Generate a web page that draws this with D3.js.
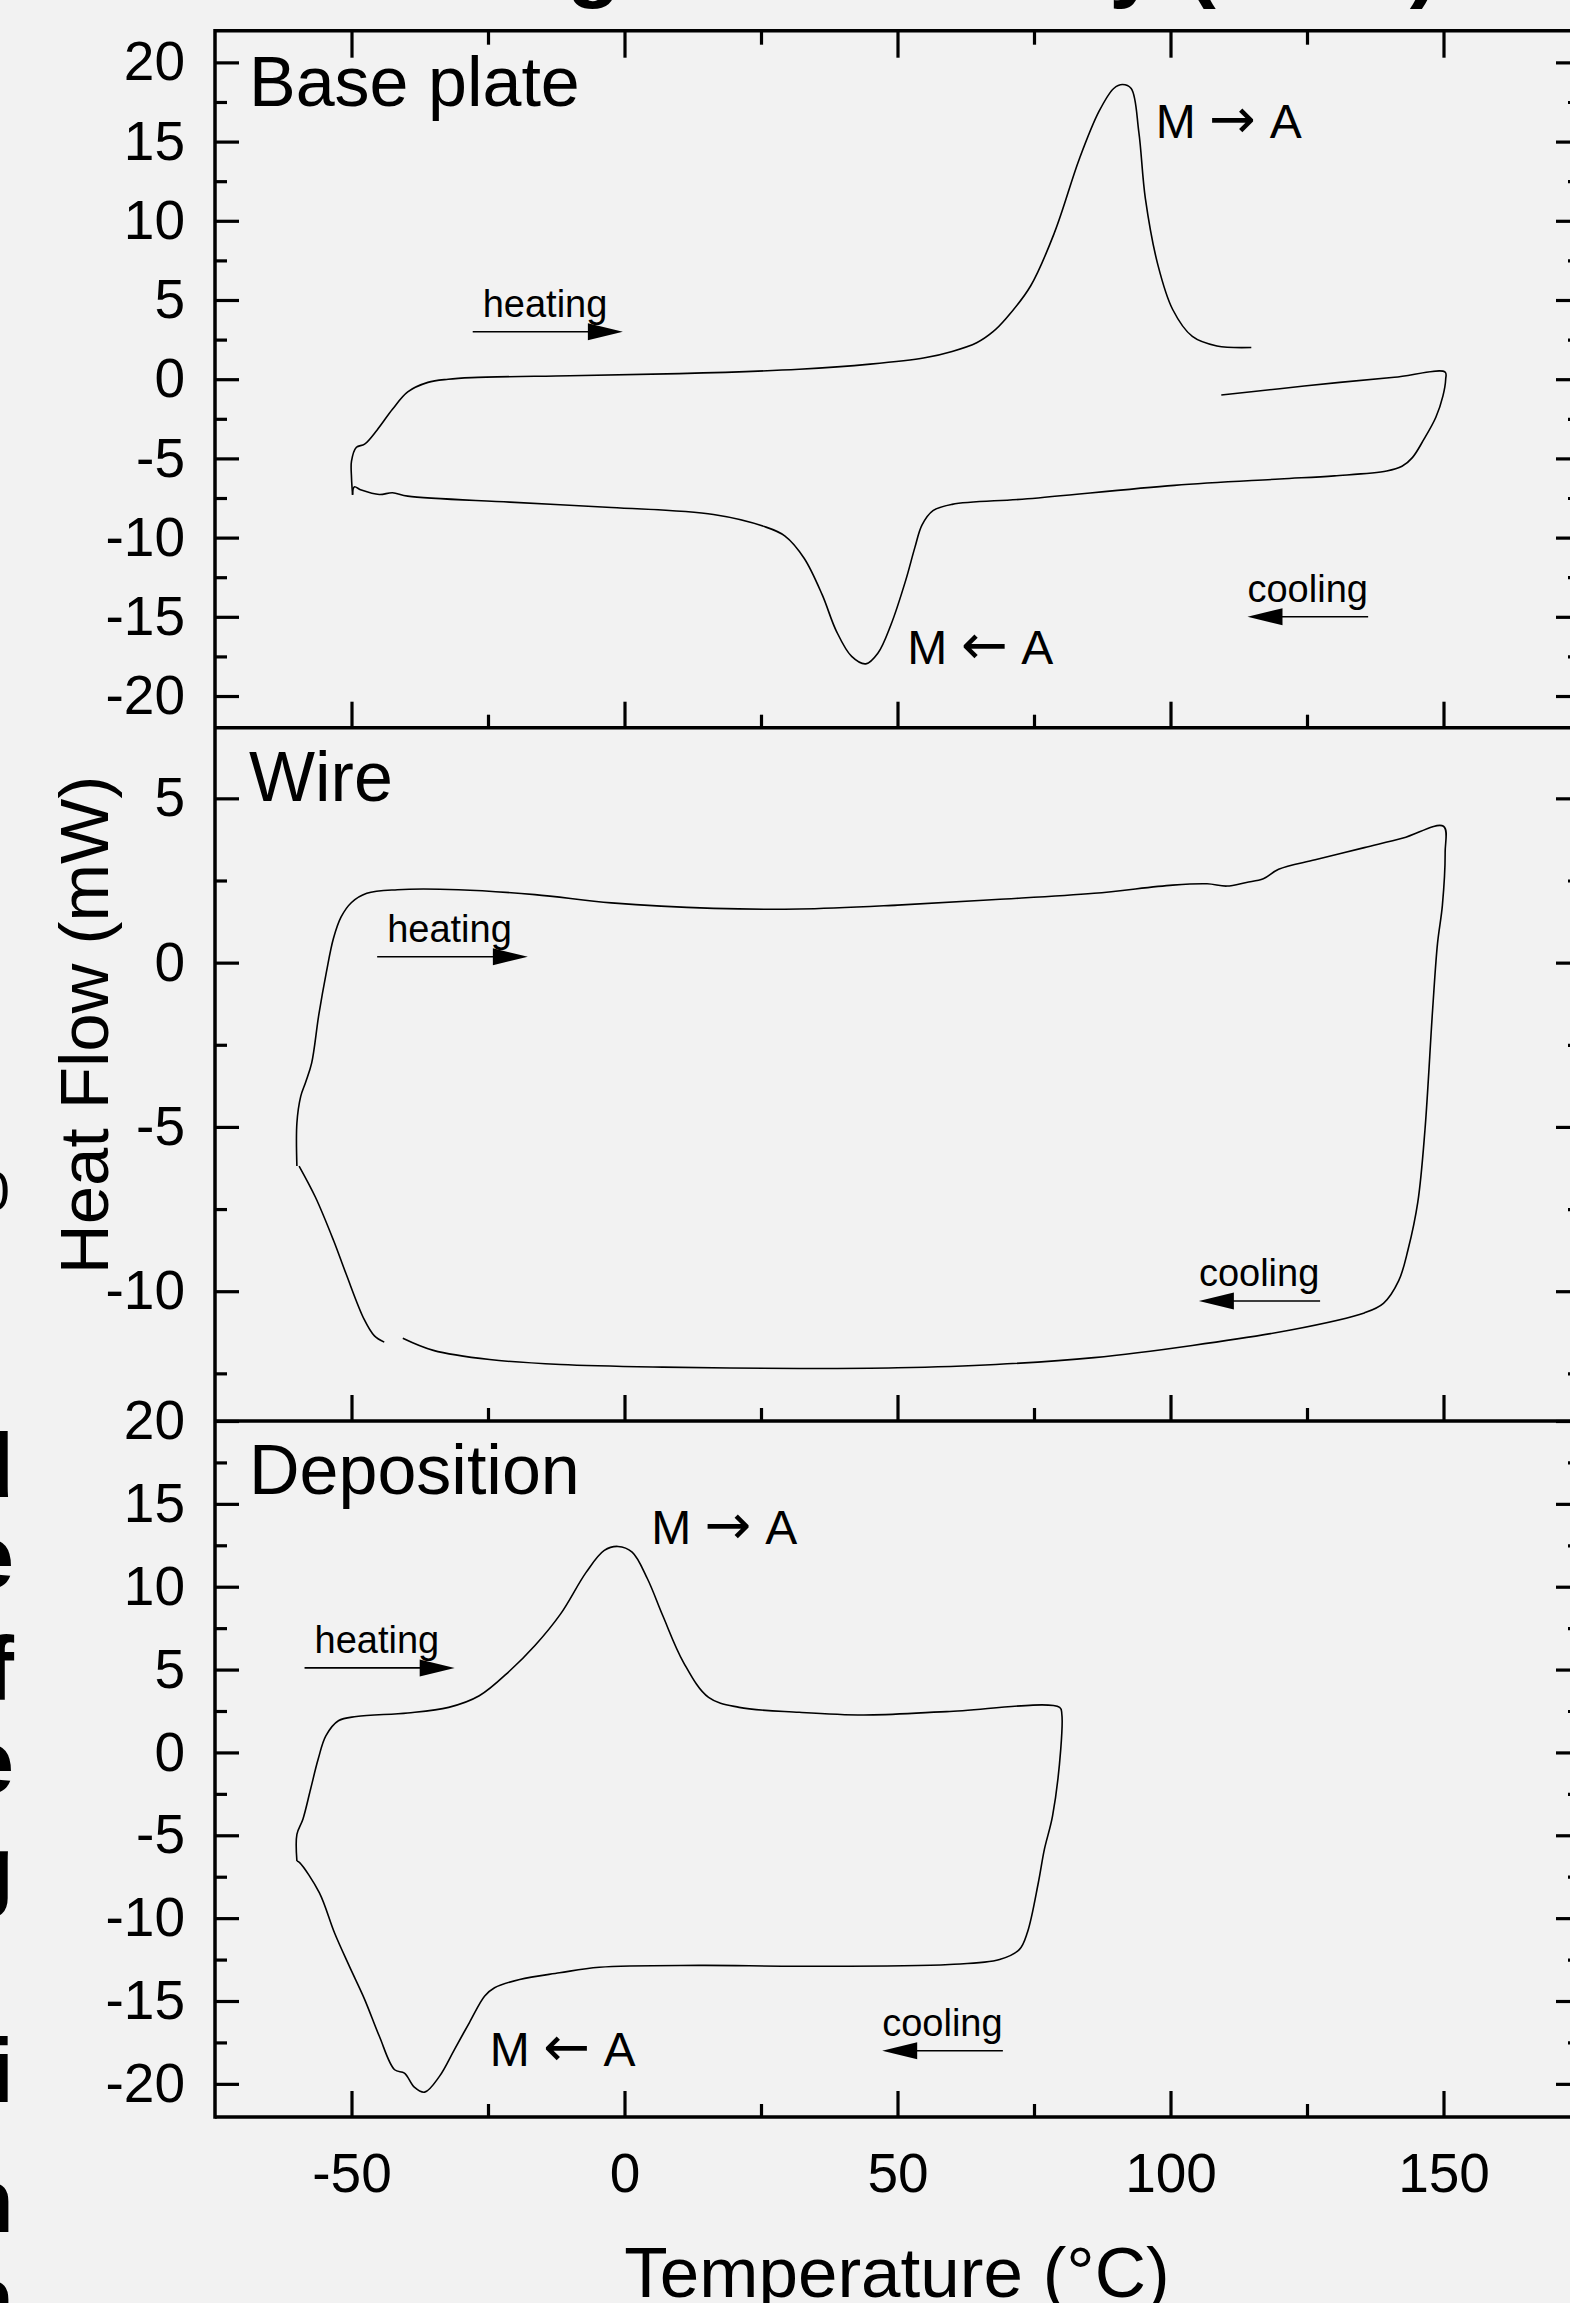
<!DOCTYPE html>
<html lang="en">
<head>
<meta charset="UTF-8">
<title>DSC curves</title>
<script src="https://d3js.org/d3.v7.min.js"></script>
<style>
  body { margin: 0; background: #f2f2f2; }
  svg { display: block; font-family: "Liberation Sans", Arial, sans-serif; }
</style>
</head>
<body>
<svg id="chart" width="1570" height="2303"></svg>
<script>
// ---- data (temperature in °C, heat flow in mW) ----
const tempDomain = [-75, 175];
const tempTicks = [-50, 0, 50, 100, 150];
const tempMinor = [-25, 25, 75, 125];

const panelNames = ["Base plate", "Wire", "Deposition"];
const flowDomains = [[-22, 22], [-13.95, 7.15], [-22, 20]];
const flowTicks = [
  [20, 15, 10, 5, 0, -5, -10, -15, -20],
  [5, 0, -5, -10],
  [20, 15, 10, 5, 0, -5, -10, -15, -20]
];
const flowMinor = [
  [17.5, 12.5, 7.5, 2.5, -2.5, -7.5, -12.5, -17.5],
  [2.5, -2.5, -7.5, -12.5],
  [17.5, 12.5, 7.5, 2.5, -2.5, -7.5, -12.5, -17.5]
];

// base plate: heating run, then the rest of the loop (cooling)
const basePlateHeating = [[-49.8,-7.3],[-50,-6.2],[-50,-5.17],[-49.1,-4.3],[-47.6,-4.1],[-45.3,-3.2],[-42.5,-1.9],[-39.7,-0.8],[-36,-0.2],[-32.3,0.0],[-28,0.1],[-10,0.22],[10,0.35],[32,0.63],[45,0.95],[55,1.35],[60,1.75],[64.5,2.3],[67.5,3.0],[69.8,3.8],[74.4,5.9],[78.8,9.3],[83.3,13.9],[86.9,16.9],[89.6,18.35],[91.2,18.6],[92.8,18.35],[94.2,15.6],[95.4,11.4],[97.7,7.2],[100.4,4.4],[104,2.7],[108.5,2.1],[114.8,2.0]];
const basePlateCooling = [[109.3,-1.0],[120,-0.6],[131,-0.2],[141,0.12],[150.3,0.45],[150.4,0.0],[149.9,-1.05],[148.6,-2.4],[146.4,-3.8],[144.3,-4.95],[142.4,-5.5],[139.6,-5.8],[130,-6.1],[120,-6.3],[100.7,-6.7],[73.8,-7.55],[60,-7.9],[56.5,-8.3],[54.5,-9.2],[53.2,-10.6],[51.5,-12.7],[48.8,-15.5],[46.4,-17.3],[44.2,-17.97],[41.6,-17.5],[38.8,-15.9],[36.2,-13.6],[32.9,-11.3],[29.4,-9.9],[25.6,-9.3],[16.3,-8.54],[-2.4,-8.1],[-21,-7.76],[-39.7,-7.38],[-42.5,-7.17],[-44.9,-7.28],[-48.2,-7.0],[-49.5,-6.8],[-49.8,-7.3]];

// wire: one loop with a small gap near -42 °C
const wireLoop = [[-60,-6.19],[-60,-4.88],[-59.3,-4.07],[-58.4,-3.64],[-57.3,-3.06],[-56.0,-1.6],[-54.6,-0.29],[-53.3,0.74],[-51.9,1.39],[-50,1.83],[-47.2,2.11],[-41.6,2.22],[-30.4,2.22],[-16.4,2.07],[-2.4,1.82],[16.3,1.65],[32,1.63],[50,1.75],[68,1.92],[86,2.11],[100.4,2.36],[106.7,2.40],[110.3,2.33],[113.9,2.44],[117,2.55],[119.8,2.84],[126.5,3.13],[135.5,3.5],[142.6,3.79],[150,4.15],[150.3,3.35],[149.8,1.75],[148.9,0.58],[148,-1.45],[146.6,-5.1],[145.3,-7.28],[143.5,-8.74],[141.8,-9.68],[139,-10.37],[135.5,-10.66],[122,-11.18],[104,-11.65],[86,-12.02],[68,-12.23],[50,-12.33],[32,-12.35],[7,-12.31],[-11.7,-12.23],[-24.7,-12.08],[-35,-11.8],[-40.6,-11.43]];
const wireTail = [[-44,-11.55],[-45.8,-11.36],[-47.7,-10.85],[-51,-9.47],[-53.3,-8.45],[-56.6,-7.14],[-59.6,-6.19]];

// deposition: full loop
const depositionLoop = [[-60,-6.55],[-60,-4.94],[-58.9,-4.03],[-57.5,-2.22],[-56.1,-0.4],[-54.7,1.0],[-52.4,1.91],[-49.1,2.17],[-39.7,2.38],[-32.2,2.72],[-26.6,3.42],[-21,4.93],[-16.4,6.45],[-11.7,8.36],[-7,10.88],[-3.7,12.19],[-1.2,12.43],[1.4,12.09],[4.2,10.48],[7,8.26],[10.8,5.44],[15.4,3.32],[21,2.72],[32,2.42],[43.8,2.26],[59,2.46],[79.7,2.72],[80.1,2.3],[79.9,0.2],[78.4,-3.83],[76.9,-5.85],[75.8,-7.85],[73.8,-10.85],[72.3,-11.9],[68.7,-12.5],[59.5,-12.8],[32,-12.9],[13.7,-12.85],[-4.6,-12.96],[-11.9,-13.3],[-19.2,-13.7],[-23.8,-14.2],[-25.6,-14.7],[-28.4,-16.3],[-31.1,-17.9],[-33.9,-19.55],[-36.6,-20.5],[-38.5,-20.2],[-40.3,-19.35],[-42.1,-19.15],[-44.9,-17.13],[-47.6,-14.9],[-50.4,-12.9],[-53.1,-10.9],[-55.9,-8.46],[-59.5,-6.65],[-60,-6.55]];

const panelCurves = [[basePlateHeating, basePlateCooling], [wireLoop, wireTail], [depositionLoop]];

// annotations: [panel, arrow, T, mW]
const labels = [
  [0, "\u2192", 97.3, 15.2],
  [0, "\u2190", 51.8, -18.0],
  [2, "\u2192", 4.9, 12.6],
  [2, "\u2190", -24.7, -18.9]
];
// direction arrows: [panel, text, fromT, toT, mW of arrow]
const arrows = [
  [0, "heating", -27.8, -0.3, 3.0],
  [0, "cooling", 136.2, 114.1, -15.0],
  [1, "heating", -45.3, -17.7, 0.18],
  [1, "cooling", 127.4, 105.2, -10.3],
  [2, "heating", -58.6, -31.1, 5.1],
  [2, "cooling", 69.3, 47.2, -18.0]
];

// ---- layout ----
const W = 1570, H = 2303;
const left = 215, right = 1580;
const panelTops = [30.7, 727.7, 1421];
const panelBottoms = [727.7, 1421, 2117];

const svg = d3.select("#chart");
svg.append("rect").attr("width", W).attr("height", H).attr("fill", "#f2f2f2");

const x = d3.scaleLinear().domain(tempDomain).range([left, right]);
const ys = flowDomains.map((d, i) => d3.scaleLinear().domain(d).range([panelBottoms[i], panelTops[i]]));

function styleAxis(g) {
  g.select(".domain").remove();
  g.selectAll(".tick line").attr("stroke", "#000").attr("stroke-width", 3.2);
  g.selectAll("text").attr("fill", "#000").attr("font-size", 55);
}

ys.forEach((y, i) => {
  // left axis
  svg.append("g").attr("transform", `translate(${left},0)`)
    .call(d3.axisLeft(y).tickValues(flowTicks[i]).tickSize(-24).tickPadding(30).tickFormat(d => String(d)))
    .call(styleAxis);
  svg.append("g").attr("transform", `translate(${left},0)`)
    .call(d3.axisLeft(y).tickValues(flowMinor[i]).tickSize(-12).tickFormat(""))
    .call(styleAxis);
  // right axis
  svg.append("g").attr("transform", `translate(${right},0)`)
    .call(d3.axisRight(y).tickValues(flowTicks[i]).tickSize(-24).tickFormat(""))
    .call(styleAxis);
  svg.append("g").attr("transform", `translate(${right},0)`)
    .call(d3.axisRight(y).tickValues(flowMinor[i]).tickSize(-12).tickFormat(""))
    .call(styleAxis);

  // bottom axis of every panel, ticks pointing up
  const bottom = svg.append("g").attr("transform", `translate(0,${panelBottoms[i]})`)
    .call(d3.axisBottom(x).tickValues(tempTicks).tickSize(-26)
      .tickFormat(i === 2 ? (d => String(d)) : ""))
    .call(styleAxis);
  bottom.selectAll("text").attr("y", 75).attr("dy", null);
  svg.append("g").attr("transform", `translate(0,${panelBottoms[i]})`)
    .call(d3.axisBottom(x).tickValues(tempMinor).tickSize(-13).tickFormat(""))
    .call(styleAxis);

  // horizontal frame line
  svg.append("line").attr("x1", left).attr("x2", right)
    .attr("y1", panelBottoms[i]).attr("y2", panelBottoms[i])
    .attr("stroke", "#000").attr("stroke-width", 3.5);

  // panel name
  svg.append("text").attr("x", 249).attr("y", panelTops[i] + (i === 0 ? 75 : 73))
    .attr("font-size", 70).text(panelNames[i]);

  // curves
  const line = d3.line().x(d => x(d[0])).y(d => y(d[1])).curve(d3.curveCatmullRom.alpha(0.5));
  panelCurves[i].forEach(seg => {
    svg.append("path").datum(seg).attr("d", line)
      .attr("fill", "none").attr("stroke", "#000").attr("stroke-width", 1.6)
      .attr("stroke-linejoin", "round");
  });
});

// top axis of the upper panel, ticks pointing down
svg.append("g").attr("transform", `translate(0,${panelTops[0]})`)
  .call(d3.axisTop(x).tickValues(tempTicks).tickSize(-27).tickFormat(""))
  .call(styleAxis);
svg.append("g").attr("transform", `translate(0,${panelTops[0]})`)
  .call(d3.axisTop(x).tickValues(tempMinor).tickSize(-14).tickFormat(""))
  .call(styleAxis);
svg.append("line").attr("x1", left).attr("x2", right)
  .attr("y1", panelTops[0]).attr("y2", panelTops[0])
  .attr("stroke", "#000").attr("stroke-width", 3.5);
// left and right spines
[left, right].forEach(px => {
  svg.append("line").attr("x1", px).attr("x2", px)
    .attr("y1", panelTops[0] - 1.7).attr("y2", panelBottoms[2] + 1.7)
    .attr("stroke", "#000").attr("stroke-width", 3.5);
});

// transition labels "M -> A" / "M <- A"
labels.forEach(([p, arrow, tx, v]) => {
  const t = svg.append("text").attr("x", x(tx)).attr("y", ys[p](v)).attr("font-size", 48);
  t.append("tspan").text("M ");
  t.append("tspan").attr("font-family", "DejaVu Sans").attr("font-size", 56).text(arrow);
  t.append("tspan").attr("dx", 3).text(" A");
});

// heating / cooling arrows
arrows.forEach(([p, t, t0, t1, v]) => {
  const y = ys[p](v);
  const x0 = x(t0), x1 = x(t1);
  const dir = Math.sign(x1 - x0);
  svg.append("line").attr("x1", x0).attr("x2", x1 - dir * 30).attr("y1", y).attr("y2", y)
    .attr("stroke", "#000").attr("stroke-width", 1.6);
  svg.append("path")
    .attr("d", `M${x1},${y} L${x1 - dir * 35},${y - 8.5} L${x1 - dir * 35},${y + 8.5} Z`)
    .attr("fill", "#000");
  const tx = Math.min(x0, x1) + 10;
  svg.append("text").attr("x", dir > 0 ? tx : Math.min(x0, x1))
    .attr("y", y - 15).attr("font-size", 38).text(t);
});

// axis titles
svg.append("text").attr("transform", `translate(108,1025) rotate(-90)`)
  .attr("text-anchor", "middle").attr("font-size", 69).text("Heat Flow (mW)");
svg.append("text").attr("x", 897).attr("y", 2297)
  .attr("text-anchor", "middle").attr("font-size", 71).text("Temperature (\u00B0C)");

// figure title, cut off at the top edge
svg.append("text").attr("x", 1441).attr("y", -9).attr("text-anchor", "end")
  .attr("font-size", 88).attr("font-weight", "bold").attr("letter-spacing", 2)
  .text("Differential Scanning Calorimetry (DSC)");

// edge of the neighbouring figure on the left
const edgeGlyphs = ["d", "e", "f", "e", "g", "i", "n", "n"];
const edgeBaselines = [1497, 1588, 1700, 1793, 1900, 2102, 2232, 2330];
edgeGlyphs.forEach((g, i) => {
  svg.append("text").attr("x", 14).attr("y", edgeBaselines[i]).attr("text-anchor", "end")
    .attr("font-size", 90).attr("font-weight", "bold").text(g);
});
svg.append("text").attr("x", 10).attr("y", 1210).attr("text-anchor", "end")
  .attr("font-size", 56).text("0");
</script>
</body>
</html>
